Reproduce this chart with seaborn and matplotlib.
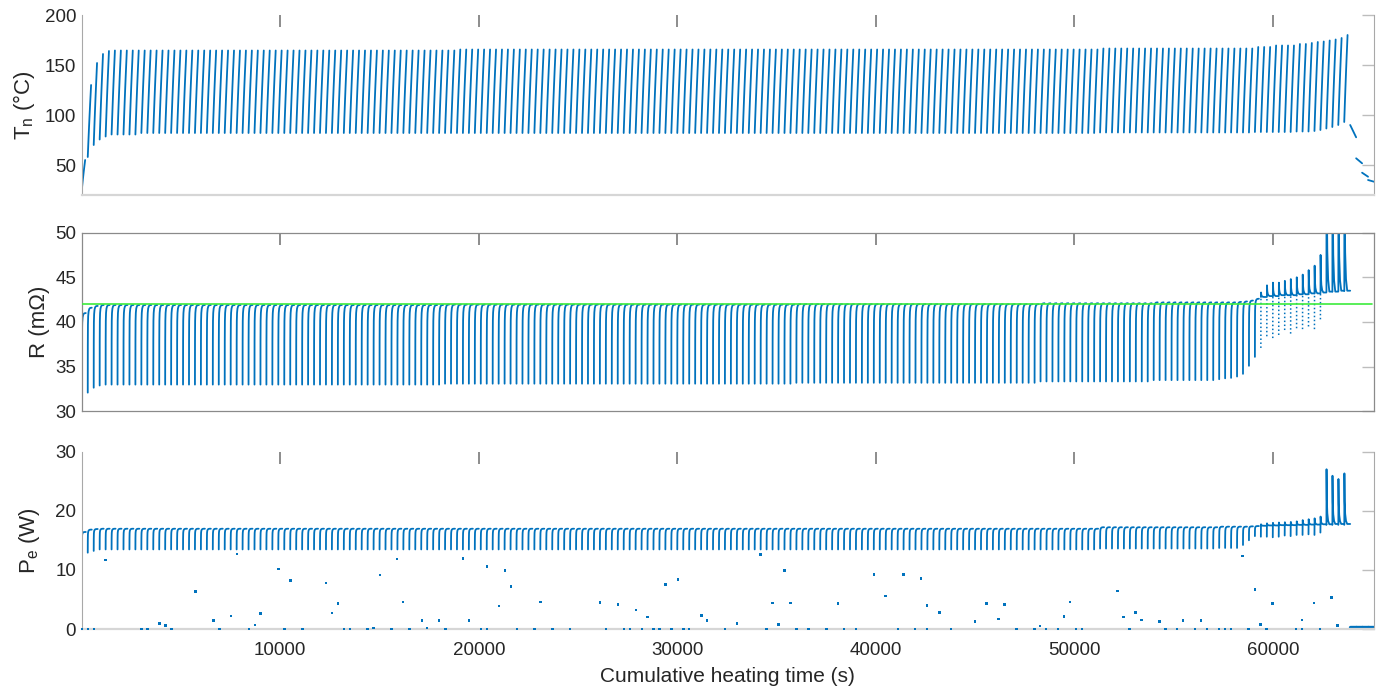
import numpy as np
import pandas as pd
import matplotlib
matplotlib.use("Agg")
import matplotlib.pyplot as plt
import seaborn as sns

BLUE = "#0072BD"
GREEN = "#3CEB3C"

CYCLE_S = 300          # heating seconds per cycle
X_MAX = 65100
X_TICKS = [10000, 20000, 30000, 40000, 50000, 60000]

# ---------------- nozzle temperature T_n (degC), runs of similar cycles ----------------
T_COUNT = [1, 1, 1, 1, 1, 5, 53, 108, 26, 3, 4, 2, 1, 1, 1, 1, 1, 1, 1]
T_LOW = [25, 58, 70, 75.5, 78.5, 80.5, 82, 82, 82.5, 83, 83, 83.5, 83.5, 84, 85, 86.5, 88, 90, 93]
T_HIGH = [55, 130, 152, 161, 164, 164.5, 164.5, 165.5, 166.5, 168, 169.5, 171, 172, 173,
          173.5, 174.5, 175.5, 177, 180]
# shape of one heating ramp: fraction of cycle time -> fraction of rise
T_RAMP_F = [0, 0.1, 0.2, 0.3, 0.4, 0.5, 0.56]
T_RAMP_V = [0, 0.2, 0.39, 0.57, 0.74, 0.9, 1.0]
# cool-down after the last heating cycle
T_COOL_START = [90.0, 56.7, 42.3, 35.0]
T_COOL_END = [77.7, 51.7, 38.3, 33.3]

# ---------------- resistance R (mOhm) ----------------
R_COUNT = [1, 1, 1, 1, 57, 59, 41, 19, 11] + [1] * 22
R_LOW = [30.3, 32.1, 32.65, 32.9, 33.0, 33.1, 33.2, 33.35, 33.5,
         33.6, 33.7, 33.75, 33.9, 34.2, 35.1, 36.1, 37.1, 38.4, 38.2, 38.55, 39.1,
         38.7, 39.3, 39.2, 39.5, 39.2, 40.3, 43.4, 43.4, 43.4, 43.4]
R_PEAK = [41.0, 41.6, 41.8, 41.9, 41.9, 41.95, 42.0, 42.1, 42.2,
          42.2, 42.2, 42.2, 42.25, 42.3, 42.4, 42.6, 43.3, 44.1, 44.4, 44.4, 44.6,
          44.8, 45.0, 45.3, 45.8, 46.3, 47.5, 66.0, 64.0, 62.5, 65.0]
R_END = [41.0, 41.6, 41.8, 41.9, 41.9, 41.95, 42.0, 42.1, 42.2,
         42.2, 42.2, 42.2, 42.25, 42.3, 42.4, 42.6, 42.8, 42.9, 42.9, 43.0, 43.0,
         43.0, 43.1, 43.1, 43.2, 43.2, 43.3, 43.4, 43.4, 43.5, 43.5]
R_LIMIT_T = [0, 65000]
R_LIMIT_V = [42.0, 42.0]

# ---------------- electrical power P_e (W) ----------------
P_COUNT = [1, 1, 1, 168, 20, 4] + [1] * 18
P_LOW = [12.3, 12.9, 13.2, 13.45, 13.6, 13.7,
         14.2, 15.0, 15.7, 15.6, 15.6, 15.5, 15.6, 15.8, 15.7, 15.9, 15.9, 16.0, 15.9,
         16.3, 17.6, 17.6, 17.6, 17.6]
P_PEAK = [16.4, 16.8, 16.9, 16.95, 17.2, 17.3,
          17.3, 17.35, 17.4, 17.7, 17.86, 17.95, 18.0, 18.05, 18.1, 18.2, 18.4, 18.55,
          18.7, 19.0, 27.0, 25.9, 25.35, 26.3]
P_END = [16.4, 16.8, 16.9, 16.95, 17.2, 17.3,
         17.3, 17.35, 17.4, 17.45, 17.5, 17.5, 17.55, 17.55, 17.55, 17.6, 17.6, 17.65,
         17.65, 17.7, 17.7, 17.75, 17.75, 17.75]
P_COOL = [0.35, 0.35, 0.3, 0.3]

# isolated power samples at cycle starts
DOT_T = [15, 317, 619, 3000, 3320, 4510, 6928, 8420, 10218, 11108, 13222, 13524, 14396,
         15604, 16510, 18323, 20120, 20422, 21917, 22804, 23710, 24602, 26414, 27304,
         27606, 28210, 28796, 29098, 29701, 30306, 30593, 32406, 34505, 36015, 36620,
         37506, 38398, 39002, 41116, 41987, 42592, 43784, 47092, 47998, 48583, 49187,
         50079, 50381, 52782, 54595, 55179, 56085, 56674, 57295, 57597, 57899, 58789,
         59680, 61172, 61474, 62380,
         1205, 3925, 4225, 5720, 6626, 7515, 7818, 8725, 9010, 9916, 10520, 12300,
         12602, 12904, 14698, 15018, 15890, 16192, 17134, 17401, 18005, 19197, 19514,
         20422, 21011, 21313, 21630, 23106, 26112, 27001, 27908, 28494, 29399, 30024,
         31212, 31499, 33010, 34203, 34807, 35091, 35393, 35695, 38095, 39908, 40497,
         41403, 42290, 42592, 43215, 44993, 45581, 46185, 46488, 48281, 49489, 49791,
         52178, 52480, 53084, 53386, 54293, 55481, 56372, 58487, 59107, 59394, 59983,
         61474, 62078, 62968, 63270]
DOT_P = [0.0] * 61 + [
    11.7, 0.95, 0.6, 6.3, 1.4, 2.2, 12.7, 0.67, 2.6, 10.1, 8.2, 7.8,
    2.7, 4.3, 0.2, 9.1, 11.8, 4.6, 1.4, 0.2, 1.4, 11.9, 1.4,
    10.6, 3.9, 9.9, 7.2, 4.6, 4.5, 4.1, 3.2, 2.0, 7.5, 8.4,
    2.3, 1.4, 0.95, 12.6, 4.4, 0.8, 9.9, 4.4, 4.3, 9.2, 5.6,
    9.2, 8.5, 4.0, 2.8, 1.3, 4.3, 1.7, 4.1, 0.5, 2.1, 4.6,
    6.4, 2.0, 2.8, 1.5, 1.3, 1.4, 1.4, 12.3, 6.7, 0.8, 4.3,
    1.5, 4.4, 5.3, 0.6]

# cycle shape templates (fraction of cycle time, fraction of rise)
RISE_F = [0, 0.01, 0.03, 0.07, 0.14, 0.25, 0.4, 0.67]
RISE_V = [0, 0.55, 0.8, 0.9, 0.955, 0.985, 0.997, 1.0]
SPIKE_F = [0.015, 0.03, 0.08, 0.16, 0.3, 0.5, 1.0]
SPIKE_V = [0, 1, 0.45, 0.2, 0.06, 0, 0]


def expand(counts, *cols):
    return [np.repeat(np.asarray(c, float), counts) for c in cols]


def ramp_frames(lows, peaks, ends):
    solid, rises = [], []
    for k, (lo, pk, en) in enumerate(zip(lows, peaks, ends)):
        t0 = k * CYCLE_S
        if pk - en > 0.2:
            tt = t0 + np.array(SPIKE_F) * CYCLE_S
            vv = en + (pk - en) * np.array(SPIKE_V)
            rises.append(pd.DataFrame({"t": [t0, tt[0]], "v": [lo, en], "cycle": k}))
        else:
            tt = t0 + np.array(RISE_F) * CYCLE_S
            vv = lo + (pk - lo) * np.array(RISE_V)
        solid.append(pd.DataFrame({"t": tt, "v": vv, "cycle": k}))
    return pd.concat(solid, ignore_index=True), pd.concat(rises, ignore_index=True)


def draw_lines(ax, df, **kw):
    sns.lineplot(data=df, x="t", y="v", units="cycle", estimator=None, sort=False,
                 color=BLUE, legend=False, ax=ax, **kw)


sns.set_style("white")
plt.rcParams["font.family"] = ["Liberation Sans", "DejaVu Sans"]
plt.rcParams["mathtext.fontset"] = "custom"
plt.rcParams["mathtext.rm"] = "Liberation Sans"

fig = plt.figure(figsize=(13.81, 6.87), dpi=100)
W, H = 1381.0, 687.0
L, R_ = 81.8, 1374.0
ax_t = fig.add_axes([L / W, 1 - 195 / H, (R_ - L) / W, 180 / H])
ax_r = fig.add_axes([L / W, 1 - 411.4 / H, (R_ - L) / W, 178.8 / H])
ax_p = fig.add_axes([L / W, 1 - 629 / H, (R_ - L) / W, 177.5 / H])

LW = 1.3

# ---- temperature ----
t_lo, t_hi = expand(T_COUNT, T_LOW, T_HIGH)
frames = []
for k, (lo, hi) in enumerate(zip(t_lo, t_hi)):
    tt = k * CYCLE_S + np.array(T_RAMP_F) * CYCLE_S
    frames.append(pd.DataFrame({"t": tt, "v": lo + (hi - lo) * np.array(T_RAMP_V), "cycle": k}))
n_heat = len(t_lo)
for j, (a, b) in enumerate(zip(T_COOL_START, T_COOL_END)):
    t0 = (n_heat + j) * CYCLE_S
    frames.append(pd.DataFrame({"t": [t0, t0 + CYCLE_S], "v": [a, b], "cycle": n_heat + j}))
draw_lines(ax_t, pd.concat(frames, ignore_index=True), linewidth=LW)

# ---- resistance ----
r_lo, r_pk, r_en = expand(R_COUNT, R_LOW, R_PEAK, R_END)
r_solid, r_rise = ramp_frames(r_lo, r_pk, r_en)
draw_lines(ax_r, r_solid, linewidth=LW)
draw_lines(ax_r, r_rise, linewidth=1.1, linestyle=(0, (1, 1.6)))
sns.lineplot(x=R_LIMIT_T, y=R_LIMIT_V, color=GREEN, linewidth=1.2, ax=ax_r, zorder=5)

# ---- power ----
p_lo, p_pk, p_en = expand(P_COUNT, P_LOW, P_PEAK, P_END)
p_solid, p_rise = ramp_frames(p_lo, p_pk, p_en)
draw_lines(ax_p, p_solid, linewidth=LW)
draw_lines(ax_p, p_rise, linewidth=LW)
cool = []
for j, v in enumerate(P_COOL):
    t0 = (n_heat + j) * CYCLE_S
    cool.append(pd.DataFrame({"t": [t0, t0 + CYCLE_S], "v": [v, v], "cycle": j}))
draw_lines(ax_p, pd.concat(cool, ignore_index=True), linewidth=2.4)
sns.scatterplot(x=DOT_T, y=DOT_P, marker="s", s=3.2, color=BLUE, edgecolor="none",
                ax=ax_p, clip_on=False, zorder=6)

# ---- axes styling ----
LIMS = [(20, 200), (30, 50), (0, 30)]
YTICKS = [[50, 100, 150, 200], [30, 35, 40, 45, 50], [0, 10, 20, 30]]
LABELS = ["T$_{\\mathregular{n}}$ (°C)", "R (m\u03a9)", "P$_{\\mathregular{e}}$ (W)"]
LABEL_X = [-0.0347, -0.0246, -0.031]

for i, ax in enumerate([ax_t, ax_r, ax_p]):
    ax.set_xlim(0, X_MAX)
    ax.set_ylim(*LIMS[i])
    ax.set_xticks(X_TICKS)
    ax.set_yticks(YTICKS[i])
    ax.tick_params(axis="both", direction="in", length=8.6, top=True, right=True,
                   labelsize=13.5, labelcolor="#262626")
    ax.tick_params(axis="x", color="#6e6e6e", width=1.1, pad=9.5)
    ax.tick_params(axis="y", color="#bdbdbd", width=1.0, pad=4)
    ax.set_ylabel(LABELS[i], fontsize=16, color="#262626")
    ax.yaxis.set_label_coords(LABEL_X[i], 0.5)
    ax.set_xlabel("")
    if i < 2:
        ax.tick_params(axis="x", labelbottom=False)
    for side in ["left", "right", "top", "bottom"]:
        ax.spines[side].set_visible(True)
    if i == 1:
        for sp in ax.spines.values():
            sp.set_color("#8a8a8a")
            sp.set_linewidth(0.9)
    else:
        ax.spines["top"].set_visible(False)
        ax.spines["left"].set_color("#a8a8a8")
        ax.spines["right"].set_color("#a8a8a8")
        ax.spines["bottom"].set_color("#d6d6d6")
        ax.spines["bottom"].set_linewidth(1.6)

ax_p.set_xlabel("Cumulative heating time (s)", fontsize=15, color="#262626")
ax_p.xaxis.set_label_coords(0.5, -0.215)

fig.savefig("out.png", dpi=100)
